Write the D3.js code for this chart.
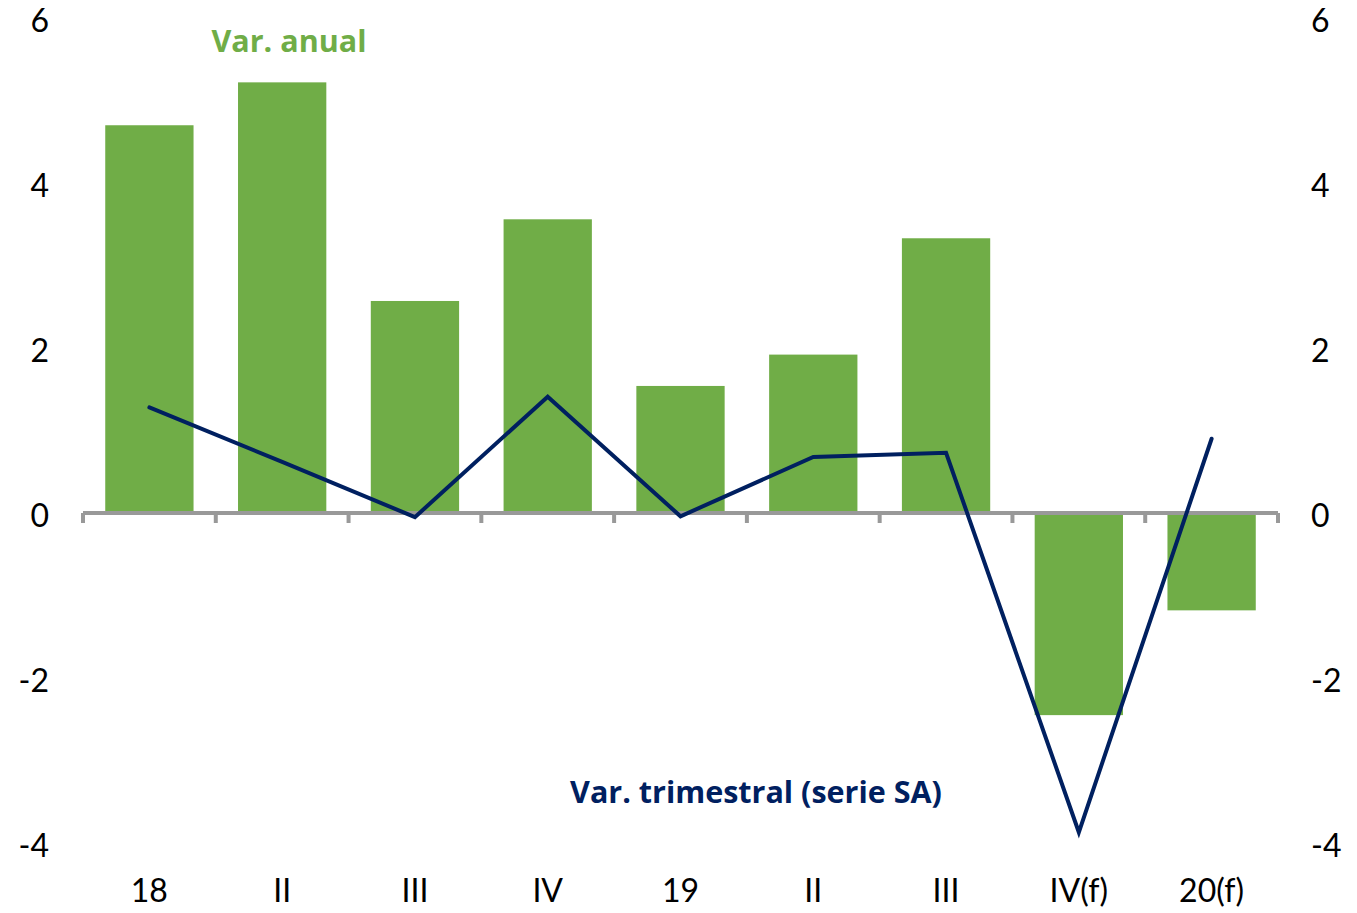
<!DOCTYPE html>
<html>
<head>
<meta charset="utf-8">
<script src="https://cdn.jsdelivr.net/npm/d3@7"></script>
<style>
  body { margin: 0; background: #fff; }
  text { font-family: Lato, "Open Sans", sans-serif; }
  .series-label { font-family: "Open Sans", Lato, sans-serif; font-weight: 700; }
</style>
</head>
<body>
<div class="canvas"></div>
<script>
// data
const quarters = ['18', 'II', 'III', 'IV', '19', 'II ', 'III ', 'IV(f)', '20(f)']
const quarterLabels = ['18', 'II', 'III', 'IV', '19', 'II', 'III', 'IV(f)', '20(f)']
const annualVar = [4.70, 5.22, 2.57, 3.56, 1.54, 1.92, 3.33, -2.45, -1.18]
const quarterlyVar = [1.28, 0.62, -0.05, 1.41, -0.04, 0.68, 0.73, -3.87, 0.90]
const yTicks = [-4, -2, 0, 2, 4, 6]

const dims = { width: 1357, height: 913 }
const plot = { left: 83, right: 1278, top: 18, bottom: 843 }

const svg = d3.select('.canvas')
    .append('svg')
    .attr('width', dims.width)
    .attr('height', dims.height)

const x = d3.scaleBand()
    .domain(quarters)
    .range([plot.left, plot.right])
    .paddingInner(0.335)
    .paddingOuter(0.1675)

const y = d3.scaleLinear()
    .domain([-4, 6])
    .range([plot.bottom, plot.top])

// bars
svg.append('g')
    .selectAll('rect')
    .data(annualVar)
    .enter()
    .append('rect')
        .attr('x', (d, i) => x(quarters[i]))
        .attr('width', x.bandwidth())
        .attr('y', d => y(Math.max(0, d)))
        .attr('height', d => Math.abs(y(d) - y(0)))
        .attr('fill', '#70AD47')

// category axis at zero
const step = x.step()
const tickPos = d3.range(quarters.length + 1).map(i => plot.left + i * step)
const axisG = svg.append('g').attr('stroke', '#999999').attr('stroke-width', 4)
axisG.append('line')
    .attr('x1', plot.left).attr('x2', plot.right)
    .attr('y1', y(0)).attr('y2', y(0))
axisG.selectAll('.tick')
    .data(tickPos)
    .enter()
    .append('line')
        .attr('x1', d => d).attr('x2', d => d)
        .attr('y1', y(0)).attr('y2', y(0) + 10)

// quarterly line
const line = d3.line()
    .x((d, i) => x(quarters[i]) + x.bandwidth() / 2)
    .y(d => y(d))

svg.append('path')
    .datum(quarterlyVar)
    .attr('d', line)
    .attr('fill', 'none')
    .attr('stroke', '#002060')
    .attr('stroke-width', 4)
    .attr('stroke-linejoin', 'miter')
    .attr('stroke-linecap', 'round')

// y labels left and right
const labelStyle = sel => sel
    .attr('font-size', 32)
    .attr('fill', '#000')
    .attr('dy', '0.45em')

svg.append('g').selectAll('text')
    .data(yTicks)
    .enter()
    .append('text')
        .attr('x', 49)
        .attr('y', d => y(d))
        .attr('text-anchor', 'end')
        .text(d => d)
        .call(labelStyle)

svg.append('g').selectAll('text')
    .data(yTicks)
    .enter()
    .append('text')
        .attr('x', 1311)
        .attr('y', d => y(d))
        .attr('text-anchor', 'start')
        .text(d => d)
        .call(labelStyle)

// x labels
svg.append('g').selectAll('text')
    .data(quarters)
    .enter()
    .append('text')
        .attr('x', d => x(d) + x.bandwidth() / 2)
        .attr('y', 888)
        .attr('text-anchor', 'middle')
        .text((d, i) => quarterLabels[i])
        .call(labelStyle)

// series labels
svg.append('text')
    .attr('class', 'series-label')
    .attr('x', 289)
    .attr('y', 52)
    .attr('text-anchor', 'middle')
    .attr('font-size', 30.5)
    .attr('fill', '#70AD47')
    .text('Var. anual')

svg.append('text')
    .attr('class', 'series-label')
    .attr('x', 756)
    .attr('y', 803)
    .attr('text-anchor', 'middle')
    .attr('font-size', 30.5)
    .attr('fill', '#002060')
    .text('Var. trimestral (serie SA)')
</script>
</body>
</html>
